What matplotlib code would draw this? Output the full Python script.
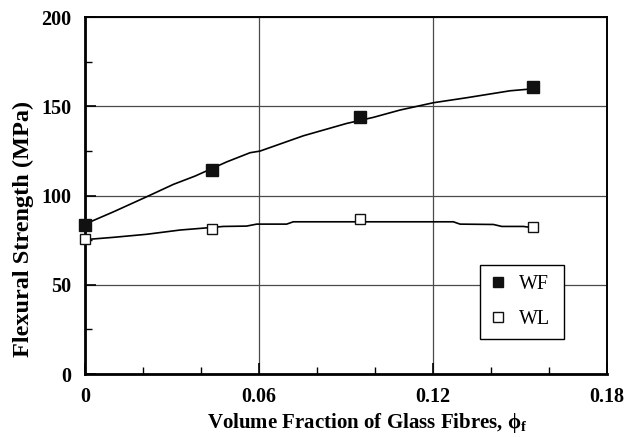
import matplotlib
matplotlib.use("Agg")
import matplotlib.pyplot as plt
from matplotlib.ticker import MultipleLocator

plt.rcParams["font.family"] = ["Liberation Serif", "DejaVu Serif"]
plt.rcParams["mathtext.fontset"] = "custom"
plt.rcParams["mathtext.rm"] = "Liberation Serif"
plt.rcParams["mathtext.bf"] = "Liberation Serif:bold"

# measured flexural strength (MPa) vs fibre volume fraction
vf_wf = [0.0, 0.0438, 0.0948, 0.1546]
strength_wf = [83.5, 114.3, 144.1, 160.6]
vf_wl = [0.0, 0.0438, 0.0948, 0.1546]
strength_wl = [75.6, 81.0, 86.8, 82.2]

# trend curves through each series
curve_x_wf = [0.0, 0.0011, 0.0098, 0.0212, 0.0305, 0.0379, 0.0489, 0.0569, 0.0603,
              0.0753, 0.0902, 0.0994, 0.1086, 0.1201, 0.1316, 0.1466, 0.1523, 0.1546]
curve_y_wf = [83.5, 84.8, 90.9, 99.3, 106.3, 110.9, 118.9, 124.0, 124.9,
              133.5, 140.4, 143.8, 147.9, 152.0, 154.8, 158.7, 159.5, 160.0]
curve_x_wl = [0.0, 0.0006, 0.0098, 0.0212, 0.0328, 0.0397, 0.0477, 0.0557, 0.0592,
              0.0695, 0.0718, 0.127, 0.1293, 0.1408, 0.1437, 0.1511, 0.1546]
curve_y_wl = [75.4, 75.4, 76.6, 78.3, 80.7, 81.6, 82.7, 82.9, 84.0,
              84.0, 85.3, 85.3, 84.0, 83.8, 82.7, 82.7, 82.0]

xticks = [0, 0.06, 0.12, 0.18]
xtick_labels = ["0", "0.06", "0.12", "0.18"]
yticks = [0, 50, 100, 150, 200]
ytick_labels = ["0", "50", "100", "150", "200"]

fig = plt.figure(figsize=(6.35, 4.37), dpi=100)
ax = fig.add_axes([0.134, 0.144, 0.822, 0.817])

ax.plot(curve_x_wf, curve_y_wf, color="black", lw=1.2, zorder=3)
ax.plot(curve_x_wl, curve_y_wl, color="black", lw=1.2, zorder=3)
ax.plot(vf_wf, strength_wf, ls="none", marker="s", ms=8.4, mfc="#111111",
        mec="#111111", label="WF", zorder=4, clip_on=False)
ax.plot(vf_wl, strength_wl, ls="none", marker="s", ms=7.4, mfc="white",
        mec="#111111", mew=1.0, label="WL", zorder=4, clip_on=False)

ax.set_xlim(0, 0.18)
ax.set_ylim(0, 200)
ax.set_xticks(xticks)
ax.set_xticklabels(xtick_labels, fontweight="bold", fontsize=14.5)
ax.set_yticks(yticks)
ax.set_yticklabels(ytick_labels, fontweight="bold", fontsize=14.5)
ax.xaxis.set_minor_locator(MultipleLocator(0.02))
ax.yaxis.set_minor_locator(MultipleLocator(25))
ax.tick_params(which="major", direction="in", length=8, width=1.2, color="black")
ax.tick_params(axis="x", which="major", pad=9)
ax.tick_params(axis="y", which="major", pad=10)
ax.tick_params(which="minor", direction="in", length=5, width=1.0, color="black")

ax.grid(True, which="major", color="#4a4a4a", lw=0.9)
ax.set_axisbelow(True)
for side in ["left", "bottom"]:
    ax.spines[side].set_linewidth(2.0)
for side in ["top", "right"]:
    ax.spines[side].set_linewidth(1.4)

fig.text(367 / 635, 1 - 423 / 437, "Volume Fraction of Glass Fibres, ϕ$_\\mathbf{f}$",
         fontsize=15, fontweight="bold", ha="center", va="center")
fig.text(23 / 635, 1 - 229 / 437, "Flexural Strength (MPa)", fontsize=17.5,
         fontweight="bold", rotation=90, ha="center", va="center")

leg = ax.legend(loc="upper left", bbox_to_anchor=(480 / 635, 1 - 337 / 437, 84 / 635, 72 / 437),
                bbox_transform=fig.transFigure, mode="expand", borderaxespad=0,
                fontsize=14.4, frameon=True, fancybox=False, edgecolor="black",
                framealpha=1.0, handlelength=0.8, handletextpad=0.65,
                borderpad=0.5, labelspacing=0.8, markerscale=0.9)
leg.get_frame().set_linewidth(1.0)

fig.savefig("out.png", dpi=100)
